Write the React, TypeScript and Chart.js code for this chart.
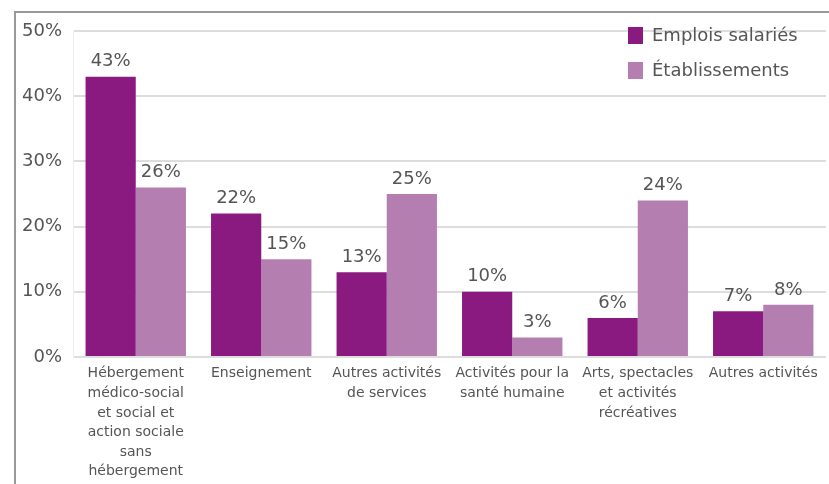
import React, { useEffect, useRef } from "react";
import { Chart, registerables } from "chart.js";

Chart.register(...registerables);

const categories: string[][] = [
  ["Hébergement", "médico-social", "et social et", "action sociale", "sans", "hébergement"],
  ["Enseignement"],
  ["Autres activités", "de services"],
  ["Activités pour la", "santé humaine"],
  ["Arts, spectacles", "et activités", "récréatives"],
  ["Autres activités"],
];
const emploisSalaries = [43, 22, 13, 10, 6, 7];
const etablissements = [26, 15, 25, 3, 24, 8];
const seriesNames = ["Emplois salariés", "Établissements"];
const seriesColors = ["#8b1a80", "#b47eb0"];
const yTicks = [0, 10, 20, 30, 40, 50];

const FONT = "'DejaVu Sans', Arial, sans-serif";

const framePlugin = {
  id: "frame",
  beforeDraw(chart: any) {
    const ctx = chart.ctx;
    ctx.save();
    ctx.fillStyle = "#ffffff";
    ctx.fillRect(0, 0, chart.width, chart.height);
    ctx.strokeStyle = "#999999";
    ctx.lineWidth = 2;
    ctx.beginPath();
    ctx.moveTo(15, chart.height);
    ctx.lineTo(15, 12);
    ctx.lineTo(chart.width, 12);
    ctx.stroke();
    ctx.restore();
  },
};

const valueLabels = {
  id: "valueLabels",
  afterDatasetsDraw(chart: any) {
    const ctx = chart.ctx;
    ctx.save();
    ctx.font = `18px ${FONT}`;
    ctx.fillStyle = "#555555";
    ctx.textAlign = "center";
    ctx.textBaseline = "bottom";
    chart.data.datasets.forEach((ds: any, di: number) => {
      const meta = chart.getDatasetMeta(di);
      meta.data.forEach((bar: any, i: number) => {
        ctx.fillText(`${ds.data[i]}%`, bar.x, bar.y - 6);
      });
    });
    ctx.restore();
  },
};

const customLegend = {
  id: "customLegend",
  afterDraw(chart: any) {
    const ctx = chart.ctx;
    ctx.save();
    ctx.font = `18px ${FONT}`;
    ctx.textAlign = "left";
    ctx.textBaseline = "middle";
    chart.data.datasets.forEach((ds: any, i: number) => {
      const y = 27 + i * 35;
      ctx.fillStyle = ds.backgroundColor;
      ctx.fillRect(628, y, 15, 17);
      ctx.fillStyle = "#555555";
      ctx.fillText(ds.label, 652, y + 9);
    });
    ctx.restore();
  },
};

export default function App() {
  const ref = useRef<HTMLCanvasElement>(null);
  useEffect(() => {
    if (!ref.current) return;
    const chart = new Chart(ref.current, {
      type: "bar",
      data: {
        labels: categories,
        datasets: [
          { label: seriesNames[0], data: emploisSalaries, backgroundColor: seriesColors[0] },
          { label: seriesNames[1], data: etablissements, backgroundColor: seriesColors[1] },
        ],
      },
      options: {
        responsive: false,
        animation: false,
        devicePixelRatio: 1,
        layout: { padding: { top: 31, right: 3, left: 0, bottom: 0 } },
        datasets: { bar: { categoryPercentage: 0.8, barPercentage: 1.0 } },
        plugins: {
          legend: { display: false },
          tooltip: { enabled: false },
        },
        scales: {
          x: {
            grid: { display: false, drawTicks: false },
            border: { display: false },
            afterFit: (s: any) => {
              s.height = 484 - 357;
            },
            ticks: {
              autoSkip: false,
              maxRotation: 0,
              minRotation: 0,
              padding: 7,
              color: "#555555",
              font: { family: FONT, size: 14, lineHeight: 1.4 },
            },
          },
          y: {
            min: 0,
            max: 50,
            afterBuildTicks: (s: any) => {
              s.ticks = yTicks.map((v) => ({ value: v }));
            },
            afterFit: (s: any) => {
              s.width = 73;
            },
            grid: { color: "#dddddd", lineWidth: 2, drawTicks: false },
            border: { display: true, color: "#eeeeee", width: 1 },
            ticks: {
              padding: 11,
              color: "#555555",
              font: { family: FONT, size: 18 },
              callback: (v: any) => `${v}%`,
            },
          },
        },
      },
      plugins: [framePlugin, valueLabels, customLegend],
    });
    return () => chart.destroy();
  }, []);
  return (
    <div style={{ position: "fixed", left: 0, top: 0, width: 829, height: 484, background: "#fff" }}>
      <canvas ref={ref} width={829} height={484} style={{ display: "block" }} />
    </div>
  );
}
